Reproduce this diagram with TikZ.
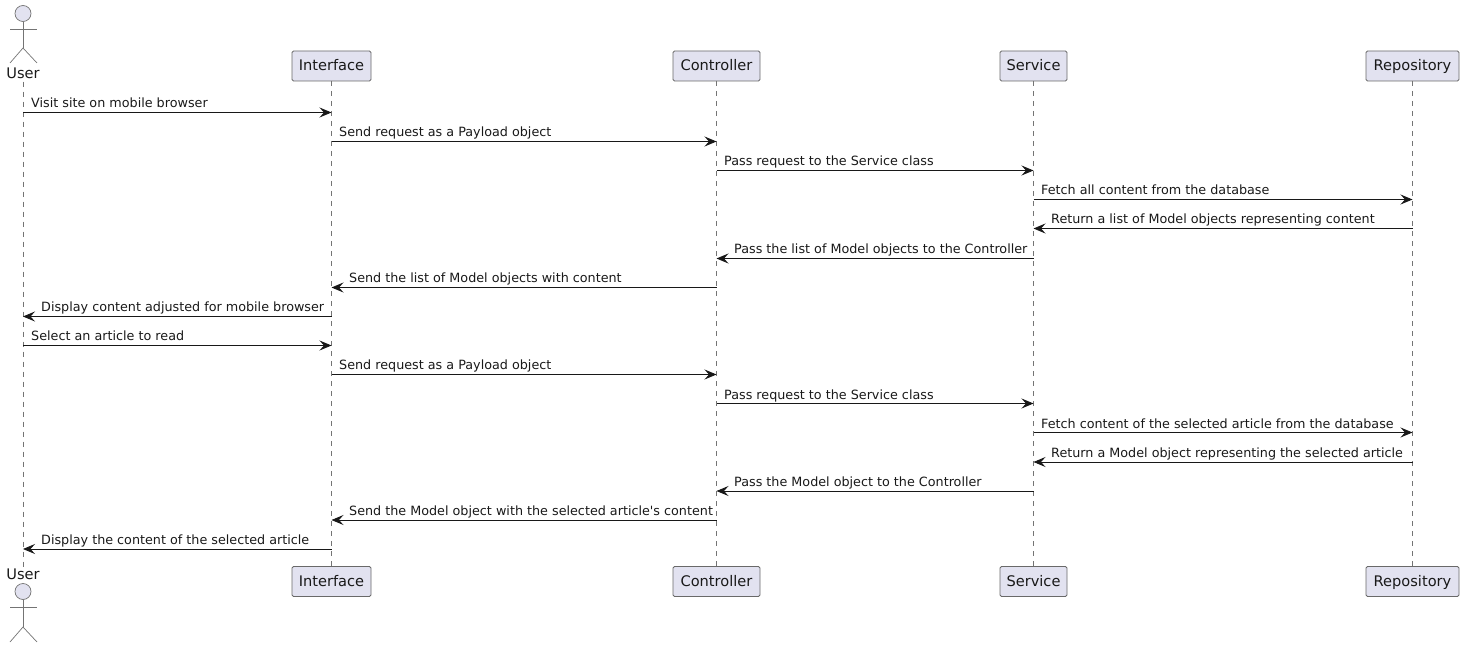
\documentclass[tikz,border=0pt]{standalone}
\usepackage{fontspec}
\setmainfont{DejaVu Sans}
\usetikzlibrary{arrows.meta}
\definecolor{boxfill}{HTML}{E2E2F0}
\definecolor{ink}{HTML}{181818}
\tikzset{
  part/.style={draw=ink!65, line width=0.8pt, fill=boxfill, rounded corners=1.5pt, minimum height=30pt, inner xsep=0pt, inner ysep=0pt, text height=11pt, text depth=2pt, font=\fontsize{14.6}{16}\selectfont, text=black!90},
  actorname/.style={inner sep=0pt, text height=10pt, text depth=1pt, font=\fontsize{14.6}{16}\selectfont, text=black!90},
  head/.style={circle, draw=ink!60, line width=0.7pt, fill=boxfill, minimum size=16pt, inner sep=0pt},
  limb/.style={draw=ink!60, line width=0.7pt},
  lifeline/.style={draw=ink!60, line width=0.7pt, dash pattern=on 5pt off 5pt},
  msg/.style={draw=ink, line width=0.9pt, -{Stealth[length=12pt, width=10pt, inset=4.5pt]}},
  msgtext/.style={anchor=base west, inner sep=0pt, font=\fontsize{12.75}{15}\selectfont, text=black!90}
}

\begin{document}
\begin{tikzpicture}[x=1pt, y=-1pt]
  \useasboundingbox (0,0) rectangle (1464,647);

  % participants
  \node[actorname] (userA) at (23,74) {User};
  \node[part, minimum width=79pt] (ifaceA) at (331.5,66) {Interface};
  \node[part, minimum width=87pt] (ctrlA) at (716.5,66) {Controller};
  \node[part, minimum width=67pt] (svcA) at (1033.5,66) {Service};
  \node[part, minimum width=93pt] (repoA) at (1412.5,66) {Repository};

  \node[actorname] (userB) at (23,575) {User};
  \node[part, minimum width=79pt] (ifaceB) at (331.5,581.5) {Interface};
  \node[part, minimum width=87pt] (ctrlB) at (716.5,581.5) {Controller};
  \node[part, minimum width=67pt] (svcB) at (1033.5,581.5) {Service};
  \node[part, minimum width=93pt] (repoB) at (1412.5,581.5) {Repository};

  % stick figures
  \node[head] (headA) at (23,13.5) {};
  \draw[limb] (headA.south) -- (23,48);
  \draw[limb] (10,29) -- (37,29);
  \draw[limb] (10,63) -- (23,48) -- (37,63);

  \node[head] (headB) at (23,591.5) {};
  \draw[limb] (headB.south) -- (23,627);
  \draw[limb] (10,607) -- (37,607);
  \draw[limb] (10,642) -- (23,627) -- (37,642);

  % lifelines
  \draw[lifeline] (userA.south) ++(0,2) -- (userB.north);
  \draw[lifeline] (ifaceA) ++(0,15) -- (ifaceB.north);
  \draw[lifeline] (ctrlA) ++(0,15) -- (ctrlB.north);
  \draw[lifeline] (svcA) ++(0,15) -- (svcB.north);
  \draw[lifeline] (repoA) ++(0,15) -- (repoB.north);

  % rows
  \coordinate (r1) at (0,112.5);
  \coordinate (r2) at (0,141.5);
  \coordinate (r3) at (0,170.5);
  \coordinate (r4) at (0,199.5);
  \coordinate (r5) at (0,228.5);
  \coordinate (r6) at (0,258.5);
  \coordinate (r7) at (0,287.5);
  \coordinate (r8) at (0,316.5);
  \coordinate (r9) at (0,345.5);
  \coordinate (r10) at (0,374.5);
  \coordinate (r11) at (0,403.5);
  \coordinate (r12) at (0,432.5);
  \coordinate (r13) at (0,462);
  \coordinate (r14) at (0,491);
  \coordinate (r15) at (0,520);
  \coordinate (r16) at (0,549);

  % messages
  \node[msgtext] (t1) at (31,107.5) {Visit site on mobile browser};
  \node[msgtext] (t2) at (339,136.5) {Send request as a Payload object};
  \node[msgtext] (t3) at (724,166) {Pass request to the Service class};
  \node[msgtext] (t4) at (1041,195) {Fetch all content from the database};
  \node[msgtext] (t5) at (1051,224) {Return a list of Model objects representing content};
  \node[msgtext] (t6) at (734,253) {Pass the list of Model objects to the Controller};
  \node[msgtext] (t7) at (349,282) {Send the list of Model objects with content};
  \node[msgtext] (t8) at (41,311) {Display content adjusted for mobile browser};
  \node[msgtext] (t9) at (31,340) {Select an article to read};
  \node[msgtext] (t10) at (339,369.5) {Send request as a Payload object};
  \node[msgtext] (t11) at (724,399) {Pass request to the Service class};
  \node[msgtext] (t12) at (1041,428) {Fetch content of the selected article from the database};
  \node[msgtext] (t13) at (1051,457) {Return a Model object representing the selected article};
  \node[msgtext] (t14) at (734,486) {Pass the Model object to the Controller};
  \node[msgtext] (t15) at (349,515) {Send the Model object with the selected article\textquotesingle s content};
  \node[msgtext] (t16) at (41,544) {Display the content of the selected article};

  \draw[msg] (userA |- r1) -- (ifaceA |- r1);
  \draw[msg] (ifaceA |- r2) -- (ctrlA |- r2);
  \draw[msg] (ctrlA |- r3) -- (svcA |- r3);
  \draw[msg] (svcA |- r4) -- (repoA |- r4);
  \draw[msg] (repoA |- r5) -- (svcA |- r5);
  \draw[msg] (svcA |- r6) -- (ctrlA |- r6);
  \draw[msg] (ctrlA |- r7) -- (ifaceA |- r7);
  \draw[msg] (ifaceA |- r8) -- (userA |- r8);
  \draw[msg] (userA |- r9) -- (ifaceA |- r9);
  \draw[msg] (ifaceA |- r10) -- (ctrlA |- r10);
  \draw[msg] (ctrlA |- r11) -- (svcA |- r11);
  \draw[msg] (svcA |- r12) -- (repoA |- r12);
  \draw[msg] (repoA |- r13) -- (svcA |- r13);
  \draw[msg] (svcA |- r14) -- (ctrlA |- r14);
  \draw[msg] (ctrlA |- r15) -- (ifaceA |- r15);
  \draw[msg] (ifaceA |- r16) -- (userA |- r16);
\end{tikzpicture}
\end{document}
